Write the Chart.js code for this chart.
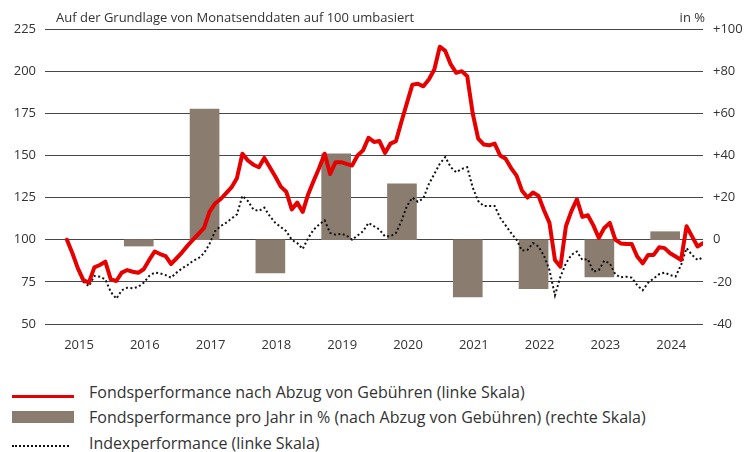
<!DOCTYPE html>
<html><head><meta charset="utf-8">
<script src="https://cdn.jsdelivr.net/npm/chart.js@4"></script>
<style>
html,body{margin:0;padding:0;background:#fff;width:755px;height:452px;overflow:hidden;font-family:'Open Sans',sans-serif;color:#333}
#wrap{position:absolute;left:0;top:0;width:755px;height:360px}
.row{position:absolute;left:0;height:20px;width:755px}
.txt{position:absolute;left:89px;top:0;font-size:16px;line-height:20px;white-space:nowrap;color:#333}
.sw{position:absolute;left:12px}
</style></head><body>
<div id="wrap"><canvas id="c" width="755" height="360"></canvas></div>
<div id="legend"></div>
<script>
// ---- data ----
const firstMonth = '2015-04'; // first month-end observation
const fundSeries = [100,92,83,76,74.5,83.6,85,87,76.5,75.5,80.5,82,81,80.4,82.5,88,93,91.5,90.3,85.6,89,92.5,96.5,100,103.5,107,116.5,121.5,124,127.5,131,136.5,151,147,144.5,143,148.5,143,137.5,131.5,128.5,118,122,116.5,127,135,142.5,151,139,146,146,145,144,150,153,160.5,158,158.5,151.5,157,158.5,170,181,192,192.5,191,195,201,214.5,212,204,199,200,197,175,160,156.5,156,157,150,148,142.5,138,129,125,128,126,117.5,110,88,84,108,117,124,113.5,114.5,108.5,101,107,110,100,97.8,97.5,97.5,90,86,91,91,95.5,95,92,90,88,108,102,96,98];
const indexSeries = [100,91.5,82,75,72.5,78.5,78,76.5,69,65,70,71.5,71.2,72,74.5,78.5,80.5,80,79,77.5,80.5,83,85,87.5,89,92,97.5,105,108,110,112.5,115,126,123,118,117,119,114,110,107.5,105,100,98,94.5,101,106,109,111.5,104,103,103.5,102.5,100,102.5,105,110,108,106,102,102,104,111,120,125,122.5,124.5,133,139,145,149,143,140,142,143,131,123,120,120,120,113,108.5,104,100,93.5,94,98,96,90.5,82,67,78,86,91,93,88,88.5,81,82,87.5,86,79.5,77.7,78,77.5,73,70,74.5,77,79.5,80.5,79,78.2,85,95,91,88,89.5];
const barYears = [2016,2017,2018,2019,2020,2021,2022,2023,2024];
const barValues = [-3,62,-15.7,40.7,26.5,-27.1,-23.2,-17.6,3.8];
const yearLabels = ['2015','2016','2017','2018','2019','2020','2021','2022','2023','2024'];
const leftTicks = [50,75,100,125,150,175,200,225];
const rightTicks = [-40,-20,0,20,40,60,80,100];
const titleText = 'Auf der Grundlage von Monatsenddaten auf 100 umbasiert';
const unitText = 'in %';
const legendLabels = ['Fondsperformance nach Abzug von Gebühren (linke Skala)','Fondsperformance pro Jahr in % (nach Abzug von Gebühren) (rechte Skala)','Indexperformance (linke Skala)'];

// ---- styles ----
const RED = '#e60000', BROWN = '#8a7c6f', TXT = '#333333', GRID = '#474747';
const FONT = "'Open Sans', sans-serif";

// month position: months since end of Dec 2014
const [fy, fm] = firstMonth.split('-').map(Number);
const mpos = i => (fy - 2015) * 12 + fm + i;
const fundData = fundSeries.map((v, i) => ({x: mpos(i), y: v}));
const indexData = indexSeries.map((v, i) => ({x: mpos(i), y: v}));
const barData = barYears.map((yr, i) => ({x: (yr - 2015) * 12 + 5.1, y: barValues[i]}));

const annot = {
  id: 'annot',
  afterDraw(chart) {
    const {ctx, chartArea: a} = chart;
    ctx.save();
    ctx.fillStyle = TXT;
    ctx.font = "13px " + FONT;
    ctx.textBaseline = 'alphabetic';
    ctx.textAlign = 'left';
    ctx.fillText(titleText, a.left + 11, 22);
    ctx.textAlign = 'right';
    ctx.fillText(unitText, a.right + 2, 22);
    ctx.restore();
  }
};

new Chart(document.getElementById('c'), {
  type: 'line',
  data: {
    datasets: [
      {type: 'line', data: fundData, borderColor: RED, borderWidth: 4, pointRadius: 0, tension: 0, borderJoinStyle: 'round', borderCapStyle: 'round', yAxisID: 'y', order: 1},
      {type: 'line', data: indexData, borderColor: '#111', borderWidth: 2, borderDash: [2, 2.5], pointRadius: 0, tension: 0, yAxisID: 'y', order: 2},
      {type: 'bar', data: barData, backgroundColor: BROWN, borderWidth: 0, barThickness: 29, yAxisID: 'y2', order: 3}
    ]
  },
  options: {
    responsive: false,
    animation: false,
    layout: {padding: {top: 29, left: 0, right: 0, bottom: 0}},
    plugins: {legend: {display: false}, tooltip: {enabled: false}},
    scales: {
      x: {
        type: 'linear', min: 0, max: 120, offset: false,
        grid: {display: false}, border: {display: false},
        afterBuildTicks: s => { s.ticks = yearLabels.map((_, k) => ({value: 6.2 + 12 * k})); },
        ticks: {callback: (v, k) => yearLabels[k], color: TXT, font: {family: FONT, size: 13}, padding: 5, maxRotation: 0, autoSkip: false},
        afterFit: s => { s.height = 36; }
      },
      y: {
        position: 'left', min: 50, max: 225,
        afterBuildTicks: s => { s.ticks = leftTicks.map(v => ({value: v})); },
        grid: {color: GRID, lineWidth: 1, drawTicks: false}, border: {display: false},
        ticks: {color: TXT, font: {family: FONT, size: 13}, padding: 9},
        afterFit: s => { s.width = 45; }
      },
      y2: {
        position: 'right', min: -40, max: 100,
        afterBuildTicks: s => { s.ticks = rightTicks.map(v => ({value: v})); },
        grid: {display: false, drawTicks: false}, border: {display: false},
        ticks: {color: TXT, font: {family: FONT, size: 13}, padding: 10, callback: v => v > 0 ? '+' + v : String(v)},
        afterFit: s => { s.width = 52; }
      }
    }
  },
  plugins: [annot]
});

// legend (HTML)
const lg = document.getElementById('legend');
const rowsTop = [382, 406.5, 433];
const swatches = [
  'top:12.5px;width:62px;height:3.5px;background:' + RED,
  'top:4px;width:62px;height:12px;background:' + BROWN,
  'top:12px;width:57px;height:0;border-top:2px dotted #111'
];
legendLabels.forEach((t, i) => {
  const r = document.createElement('div');
  r.className = 'row';
  r.style.top = rowsTop[i] + 'px';
  r.innerHTML = '<div class="sw" style="' + swatches[i] + '"></div><div class="txt"></div>';
  r.querySelector('.txt').textContent = t;
  lg.appendChild(r);
});
</script>
</body></html>
